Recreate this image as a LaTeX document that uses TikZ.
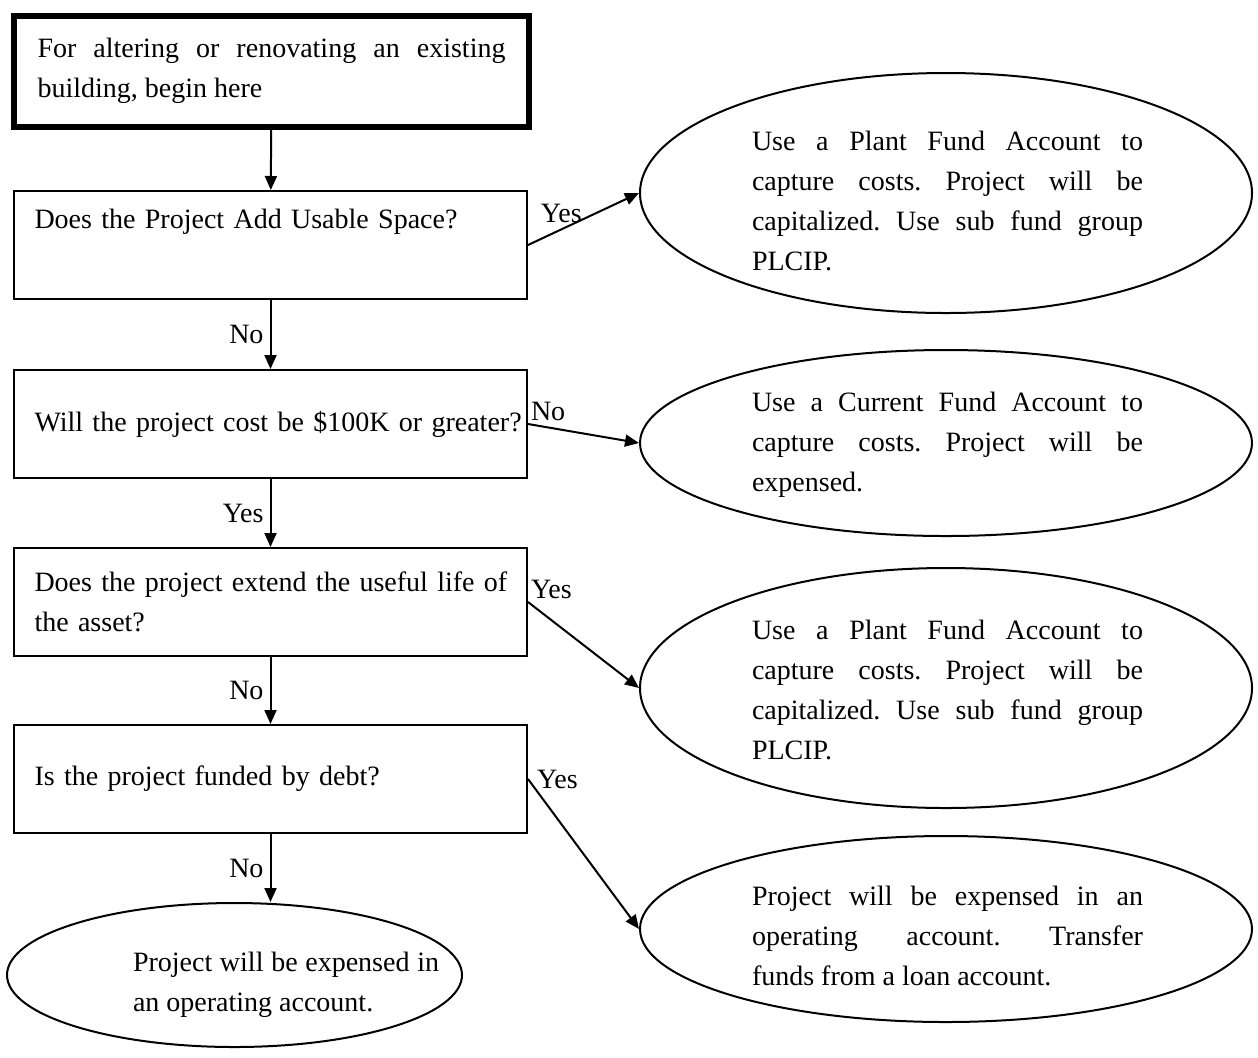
\documentclass[tikz,border=0pt]{standalone}
\usepackage{fontspec}
\setmainfont{Liberation Serif}
\frenchspacing
\usetikzlibrary{shapes.geometric, arrows.meta, positioning}

\tikzset{
  startbox/.style={draw, line width=3pt, minimum width=257.5pt, minimum height=55.5pt, text width=234pt, align=justify, inner sep=0pt},
  qbox/.style={draw, line width=1pt, minimum width=256.5pt, minimum height=54pt, text width=236pt, align=left, inner sep=0pt},
  outcome/.style={draw, ellipse, line width=1pt, inner sep=0pt, minimum width=306pt},
  outtext/.style={text width=195.5pt, align=justify, inner sep=0pt},
  flow/.style={-{Triangle[length=7pt, width=6pt]}, line width=1pt},
  ans/.style={inner sep=3pt}
}

\begin{document}
\begin{tikzpicture}[x=0.5pt, y=-0.5pt, font=\fontsize{14}{20}\selectfont]
  \path[use as bounding box] (0,0) rectangle (1258,1057);

  % questions
  \node[startbox] (start) at (271.5,71) {For altering or renovating an existing\linebreak building, begin here};
  \node[qbox] (space) at (270.5,245) {Does the Project Add Usable Space?\\\strut};
  \node[qbox] (cost) at (270.5,424) {\mbox{Will the project cost be \$100K or greater?}};
  \node[qbox] (life) at (270.5,602) {\mbox{Does the project extend the useful life of}\\the asset?};
  \node[qbox] (debt) at (270.5,779) {Is the project funded by debt?};

  % outcomes
  \node[outcome, minimum height=120pt] (plant1) at (946,193) {};
  \node[outtext] (plant1txt) at (947.5,201) {Use a Plant Fund Account to\linebreak capture costs. Project will be\linebreak capitalized. Use sub fund group\linebreak PLCIP.};
  \node[outcome, minimum height=93pt] (current) at (946,443) {};
  \node[outtext] (currenttxt) at (947.5,445) {Use a Current Fund Account to\linebreak capture costs. Project will be\linebreak expensed.};
  \node[outcome, minimum height=120pt] (plant2) at (946,688) {};
  \node[outtext] (plant2txt) at (947.5,690) {Use a Plant Fund Account to\linebreak capture costs. Project will be\linebreak capitalized. Use sub fund group\linebreak PLCIP.};
  \node[outcome, minimum height=93pt] (loan) at (946,929) {};
  \node[outtext] (loantxt) at (947.5,936) {Project will be expensed in an\linebreak operating account. Transfer\linebreak funds from a loan account.};
  \node[outcome, minimum width=227.5pt, minimum height=72pt] (opacc) at (234.5,975) {};
  \node[outtext, text width=153pt] (opacctxt) at (286,985) {Project will be expensed in\linebreak an operating account.};
  \coordinate (opacctop) at (debt |- opacc.north);

  % connectors
  \draw[flow] (start) -- (space);
  \draw[flow] (space) -- node[left, ans] {No} (cost);
  \draw[flow] (cost) -- node[left, ans] {Yes} (life);
  \draw[flow] (life) -- node[left, ans] {No} (debt);
  \draw[flow] (debt) -- node[left, ans] {No} (opacctop);
  \draw[flow] (space.east) -- node[pos=0.3, above, ans] {Yes} (plant1.west);
  \draw[flow] (cost.east) -- node[pos=0, above right, inner sep=1pt] {No} (current.west);
  \draw[flow] (life.east) -- node[pos=0, above right, inner sep=1pt] {Yes} (plant2.west);
  \draw[flow] (debt.east) -- node[pos=0, right, inner sep=4pt] {Yes} (loan.west);
\end{tikzpicture}
\end{document}
